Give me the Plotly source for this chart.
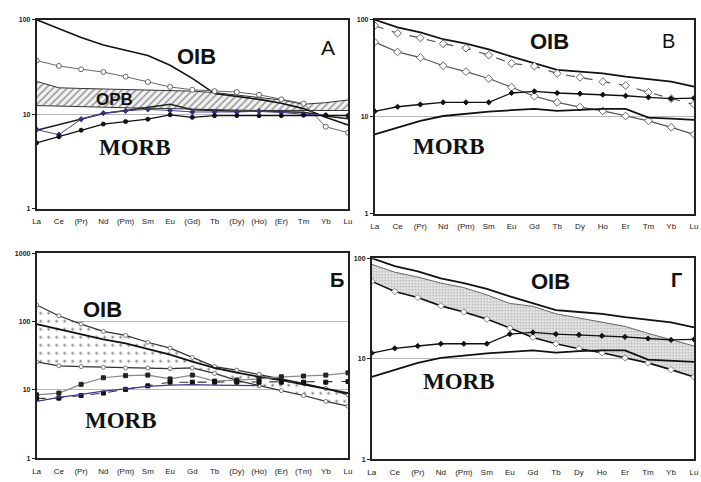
import plotly.graph_objects as go

W, H = 701, 482

# ---------------- category labels ----------------
lab_A = ["La", "Ce", "(Pr)", "Nd", "(Pm)", "Sm", "Eu", "(Gd)", "Tb", "(Dy)", "(Ho)", "(Er)", "Tm", "Yb", "Lu"]
lab_B = ["La", "Ce", "(Pr)", "Nd", "(Pm)", "Sm", "Eu", "Gd", "Tb", "Dy", "Ho", "Er", "Tm", "Yb", "Lu"]
lab_Bb = ["La", "Ce", "(Pr)", "Nd", "(Pm)", "Sm", "Eu", "Gd", "Tb", "(Dy)", "(Ho)", "(Er)", "(Tm)", "Yb", "Lu"]
lab_G = lab_B

# ---------------- panel A ----------------
A_oib = [100, 80, 65, 54, 48, 42, 33, 24, 16.6, 15.5, 14.4, 13.1, 11.5, 9.3, 7.7]
A_open = [37, 32.5, 30, 28, 25, 22, 19.5, 18.2, 17.6, 17.2, 16.1, 14.4, 13.0, 7.4, 6.4]
A_opb_up = [22.3, 19.1, 18.8, 18.5, 18.2, 18.0, 17.8, 17.6, 17.0, 16.0, 15.0, 14.2, 12.8, 13.3, 14.2]
A_opb_lo = [12.4, 12.2, 12.0, 11.8, 11.7, 11.6, 11.5, 11.3, 11.2, 11.1, 11.0, 11.0, 10.9, 10.9, 11.0]
A_morb = [6.8, 7.8, 9.0, 10.2, 11.0, 11.8, 12.8, 11.2, 10.9, 10.8, 10.8, 10.7, 10.5, 9.6, 9.0]
A_blue = [6.9, 6.1, 8.9, 10.3, 10.9, 11.3, 11.0, 10.6, 10.6, 10.6, 10.8, 10.5, 10.0, 9.8, None]
A_dots = [5.0, 5.8, 6.8, 7.9, 8.4, 8.9, 9.9, 9.3, 9.7, 9.7, 9.7, 9.7, 9.8, 9.8, 9.7]

# ---------------- panel B (and Г) ----------------
B_oib = [100, 83.6, 74, 63, 56.7, 49.6, 41.7, 35.5, 30.4, 29.2, 28, 25.9, 24.4, 23, 20.5]
B_dash = [87, 72.7, 65, 56.7, 51, 43.2, 35.5, 33.3, 28, 25.5, 23, 21, 17.9, 15.4, 13.4]
B_open = [58.9, 46.6, 40.8, 33.6, 29.2, 24.8, 20.2, 16.3, 14.1, 12.6, 11.5, 10.2, 9.1, 7.8, 6.6]
B_dots = [11.4, 12.7, 13.4, 14.1, 14.1, 14.1, 17.6, 18.3, 17.6, 17.3, 16.9, 16.5, 15.9, 15.4, 15.6]
B_morb = [6.6, 7.8, 9.1, 10.2, 10.8, 11.3, 11.7, 12.1, 11.5, 11.9, 12.1, 12.1, 9.8, 9.6, 9.3]

# ---------------- panel Б ----------------
Bb_up = [175, 122, 92, 72, 63, 50, 41, 30, 22, 19.5, 17, 14.5, 12.5, 10.5, 8.5]
Bb_thick = [92, 78, 65, 55, 48, 40, 33, 26, 21, 18, 15.6, 14, 12, 10.5, 9]
Bb_lo = [25.7, 22.6, 22, 21.5, 21, 21, 20.5, 21, 17.5, 13.8, 11.5, 9.8, 8.3, 6.8, 5.8]
Bb_sq = [8.5, 9.0, 12.1, 15.1, 16.2, 16.5, 14.5, 16.5, 13.5, 14.0, 14.5, 15.6, 16.0, 16.5, 17.8]
Bb_dsq = [7.5, 7.6, 8.3, 9.0, 10.2, 11.5, 13.0, 13.0, 13.0, 13.0, 13.0, 13.0, 13.0, 13.0, 13.3]
Bb_blue = [6.8, 7.8, 8.6, 9.6, 10.4, 11.3, 11.8, 12.0, 11.8, 11.7, 11.6, None, None, None, None]

fig = go.Figure()

def px2x(p):
    return p / W

def px2y(p):
    return 1 - p / H

def add(x, y, ax, color="black", width=1.2, dash="solid", mode="lines",
        msym="circle", msize=5, mcolor="black", mline="black", fill=None, pattern=None):
    kw = {}
    if fill:
        kw["fill"] = fill
        kw["fillcolor"] = "rgba(0,0,0,0)"
        kw["fillpattern"] = pattern
    fig.add_trace(go.Scatter(
        x=x, y=y, mode=mode, xaxis="x" + ax, yaxis="y" + ax,
        line=dict(color=color, width=width, dash=dash),
        marker=dict(symbol=msym, size=msize, color=mcolor, line=dict(color=mline, width=1)),
        showlegend=False, hoverinfo="skip", connectgaps=False, **kw))

hatch = dict(shape="/", size=5, solidity=0.3, fgcolor="#3a3a3a", bgcolor="#f2f2f2")
dots = dict(shape=".", size=8, solidity=0.1, fgcolor="#222222", bgcolor="white")
stip = dict(shape=".", size=3, solidity=0.4, fgcolor="#7a7a7a", bgcolor="#ececec")

# ---- A ----
add(lab_A, A_opb_lo, "", color="#333", width=1)
add(lab_A, A_opb_up, "", color="#333", width=1, fill="tonexty", pattern=hatch)
add(lab_A, A_oib, "", color="#111", width=1.6)
add(lab_A, A_open, "", color="#666", width=1, mode="lines+markers", msym="circle", msize=5, mcolor="white", mline="#666")
add(lab_A, A_morb, "", color="#222", width=1.5)
add(lab_A, A_blue, "", color="#44449a", width=1, mode="lines+markers", msym="diamond", msize=4, mcolor="#33337a", mline="#33337a")
add(lab_A, A_dots, "", color="#111", width=1.2, mode="lines+markers", msym="circle", msize=4, mcolor="#111", mline="#111")

# ---- B ----
add(lab_B, B_oib, "2", color="#111", width=1.8)
add(lab_B, B_dash, "2", color="#555", width=1.2, dash="dash", mode="lines+markers", msym="diamond", msize=6, mcolor="white", mline="#666")
add(lab_B, B_open, "2", color="#555", width=1.2, mode="lines+markers", msym="diamond", msize=6, mcolor="white", mline="#666")
add(lab_B, B_dots, "2", color="#111", width=1.3, mode="lines+markers", msym="diamond", msize=4, mcolor="#111", mline="#111")
add(lab_B, B_morb, "2", color="#111", width=1.8)

# ---- Б ----
add(lab_Bb, Bb_lo, "3", color="#333", width=1.2, mode="lines+markers", msym="circle", msize=4, mcolor="white", mline="#777")
add(lab_Bb, Bb_up, "3", color="#333", width=1.2, mode="lines+markers", msym="circle", msize=4, mcolor="white", mline="#777", fill="tonexty", pattern=dots)
add(lab_Bb, Bb_thick, "3", color="#111", width=1.8)
add(lab_Bb, Bb_sq, "3", color="#888", width=1.2, mode="lines+markers", msym="square", msize=4, mcolor="#222", mline="#222")
add(lab_Bb, Bb_dsq, "3", color="#333", width=1.1, dash="dash", mode="lines+markers", msym="square", msize=4, mcolor="#111", mline="#111")
add(lab_Bb, Bb_blue, "3", color="#3b3b90", width=1.2)

# ---- Г ----
add(lab_G, B_open, "4", color="#111", width=1.6, mode="lines+markers", msym="diamond", msize=5, mcolor="white", mline="#888")
add(lab_G, B_dash, "4", color="#666", width=1, fill="tonexty", pattern=stip)
add(lab_G, B_oib, "4", color="#111", width=1.8)
add(lab_G, B_dots, "4", color="#111", width=1.3, mode="lines+markers", msym="diamond", msize=4, mcolor="#111", mline="#111")
add(lab_G, B_morb, "4", color="#111", width=1.8)

# ---------------- axes ----------------
boxes = {
    "": (33, 348, 16, 208, lab_A, [0, 2]),
    "2": (375, 698, 16, 213, lab_B, [0, 2]),
    "3": (33, 348, 253, 461, lab_Bb, [0, 3]),
    "4": (372, 698, 258, 462, lab_G, [0, 2]),
}
layout = dict(width=W, height=H, margin=dict(l=0, r=0, t=0, b=0),
              paper_bgcolor="white", plot_bgcolor="white",
              font=dict(family="Liberation Sans, Arial, sans-serif", color="#222"))
for k, (x0, x1, y0, y1, labs, yr) in boxes.items():
    tv = [1, 10, 100, 1000][: yr[1] + 1]
    layout["xaxis" + k] = dict(domain=[px2x(x0), px2x(x1)], anchor="y" + k, type="category",
                               categoryorder="array", categoryarray=labs, range=[0, 14],
                               showgrid=False, showline=True, mirror=True, linecolor="#222", linewidth=1.6,
                               ticks="", tickfont=dict(size=8, color="#222"), ticklabelstandoff=4,
                               zeroline=False, fixedrange=True)
    layout["yaxis" + k] = dict(domain=[px2y(y1), px2y(y0)], anchor="x" + k, type="log", range=yr,
                               tickvals=tv, ticktext=["<b>%d</b>" % v for v in tv],
                               showgrid=True, gridcolor="#b8b8b8", gridwidth=1,
                               showline=True, mirror=True, linecolor="#222", linewidth=1.6,
                               ticks="outside", ticklen=3, tickcolor="#222",
                               tickfont=dict(size=7, color="#222"), zeroline=False, fixedrange=True)

def ann(text, x, y, size, family="Liberation Sans, Arial, sans-serif", bold=True):
    t = "<b>" + text + "</b>" if bold else text
    return dict(text=t, x=px2x(x), y=px2y(y), xref="paper", yref="paper", showarrow=False,
                xanchor="center", yanchor="middle", font=dict(size=size, family=family, color="#111"))

serif = "Liberation Serif, Times New Roman, serif"
layout["annotations"] = [
    ann("OIB", 195, 53, 22), ann("OPB", 112, 97, 17), ann("MORB", 133, 146, 23, serif), ann("А", 328, 44, 21, bold=False),
    ann("OIB", 552, 38, 22), ann("В", 672, 38, 20, bold=False), ann("MORB", 450, 145, 23, serif),
    ann("OIB", 100, 310, 22), ann("Б", 337, 280, 20), ann("MORB", 118, 423, 23, serif),
    ann("OIB", 553, 282, 22), ann("Г", 680, 280, 20), ann("MORB", 460, 383, 23, serif),
]
fig.update_layout(**layout)
fig.write_html("out.html")
